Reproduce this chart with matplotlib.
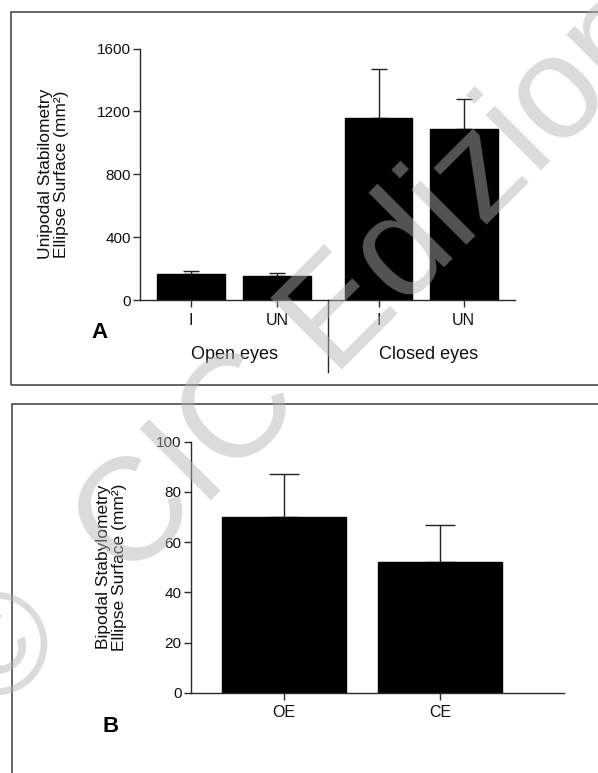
import matplotlib
matplotlib.use("Agg")
import matplotlib.pyplot as plt
from matplotlib.patches import Rectangle
from matplotlib.lines import Line2D

plt.rcParams["font.family"] = ["Liberation Sans", "DejaVu Sans"]

# Panel A: unipodal stabilometry
uni_labels = ["I", "UN", "I", "UN"]
uni_groups = ["Open eyes", "Closed eyes"]
uni_means = [165, 150, 1155, 1090]
uni_err = [20, 22, 315, 190]
uni_yticks = [0, 400, 800, 1200, 1600]

# Panel B: bipodal stabilometry
bi_labels = ["OE", "CE"]
bi_means = [70, 52]
bi_err = [17, 15]
bi_yticks = [0, 20, 40, 60, 80, 100]

W, H = 598, 773
fig = plt.figure(figsize=(W / 100, H / 100), dpi=100)

def fx(px):
    return px / W

def fy(py):
    return 1 - py / H

AX = "#2b2b2b"

# panel frames
fig.add_artist(Rectangle((fx(11), fy(384.5)), fx(600), fy(11.5) - fy(384.5),
                         transform=fig.transFigure, fill=False, ec="#3a3a3a", lw=1.1))
fig.add_artist(Rectangle((fx(11.5), fy(790)), fx(600), fy(404) - fy(790),
                         transform=fig.transFigure, fill=False, ec="#3a3a3a", lw=1.1))

def style_axes(ax):
    for s in ("top", "right"):
        ax.spines[s].set_visible(False)
    for s in ("left", "bottom"):
        ax.spines[s].set_color(AX)
        ax.spines[s].set_linewidth(1.0)
    ax.tick_params(axis="both", colors=AX, width=1.0, length=5, labelcolor="#111111")
    ax.tick_params(axis="y", labelsize=11, pad=1.5)
    ax.tick_params(axis="x", labelsize=11.5, pad=4)
    ax.patch.set_alpha(0)

# ---- Panel A ----
xa = [0, 1, 2.18, 3.17]
axA = fig.add_axes([fx(140), fy(300), fx(515) - fx(140), fy(48.5) - fy(300)])
axA.bar(xa, uni_means, width=0.79, color="black", edgecolor="black", zorder=2)
axA.errorbar(xa, uni_means, yerr=[[0] * 4, uni_err], fmt="none", ecolor="#222222",
             elinewidth=1.0, capsize=6, capthick=1.0, zorder=1)
axA.set_xlim(-0.593, 3.767)
axA.set_ylim(0, 1600)
axA.set_yticks(uni_yticks)
axA.set_xticks(xa)
axA.set_xticklabels(uni_labels)
style_axes(axA)
axA.set_ylabel("Unipodal Stabilometry\nEllipse Surface (mm²)", fontsize=12.5,
               color="#111111", linespacing=1.05)
axA.yaxis.set_label_coords((69 - 140) / (515 - 140), 0.5)
# group labels and separator
axA.text(0.5, -0.215, uni_groups[0], transform=axA.get_xaxis_transform(),
         ha="center", va="center", fontsize=13, color="#111111")
axA.text(2.76, -0.215, uni_groups[1], transform=axA.get_xaxis_transform(),
         ha="center", va="center", fontsize=13, color="#111111")
axA.add_line(Line2D([1.59, 1.59], [0, -0.285], transform=axA.get_xaxis_transform(),
                    color=AX, lw=1.0, clip_on=False))
fig.text(fx(100), fy(333), "A", fontsize=16, fontweight="bold", ha="center", va="center")

# ---- Panel B ----
xb = [0, 1]
axB = fig.add_axes([fx(190.7), fy(692.7), fx(564) - fx(190.7), fy(441.7) - fy(692.7)])
axB.bar(xb, bi_means, width=0.8, color="black", edgecolor="black", zorder=2)
axB.errorbar(xb, bi_means, yerr=[[0] * 2, bi_err], fmt="none", ecolor="#222222",
             elinewidth=1.0, capsize=11, capthick=1.0, zorder=1)
axB.set_xlim(-0.598, 1.795)
axB.set_ylim(0, 100)
axB.set_yticks(bi_yticks)
axB.set_xticks(xb)
axB.set_xticklabels(bi_labels)
style_axes(axB)
axB.set_ylabel("Bipodal Stabylometry\nEllipse Surface (mm²)", fontsize=12.5,
               color="#111111", linespacing=1.05)
axB.yaxis.set_label_coords((127 - 190.7) / (564 - 190.7), 0.5)
fig.text(fx(111), fy(726), "B", fontsize=16, fontweight="bold", ha="center", va="center")

# publisher watermark, running diagonally across both panels
fig.text(fx(-6.5), fy(716.5), "©  CIC Edizioni", fontsize=105, rotation=45,
         rotation_mode="anchor", ha="left", va="baseline",
         color="#b3b3b3", alpha=0.47, zorder=10)

fig.savefig("out.png", dpi=100)
